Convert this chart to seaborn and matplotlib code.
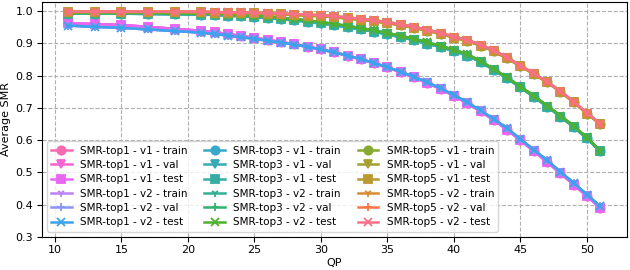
import matplotlib
matplotlib.use("Agg")
import matplotlib.pyplot as plt
import seaborn as sns

qp = [11, 13, 15, 17, 19, 21, 22, 23, 24, 25, 26, 27, 28, 29, 30, 31, 32, 33, 34, 35,
      36, 37, 38, 39, 40, 41, 42, 43, 44, 45, 46, 47, 48, 49, 50, 51]

top1_v1 = [0.962, 0.960, 0.957, 0.951, 0.945, 0.939, 0.934, 0.929, 0.923, 0.917, 0.911, 0.904,
           0.897, 0.890, 0.881, 0.872, 0.862, 0.850, 0.838, 0.825, 0.810, 0.794, 0.777, 0.758,
           0.737, 0.714, 0.689, 0.662, 0.632, 0.599, 0.566, 0.532, 0.497, 0.462, 0.426, 0.389]
top1_v2 = [0.955, 0.951, 0.948, 0.943, 0.938, 0.933, 0.929, 0.924, 0.919, 0.914, 0.908, 0.902,
           0.896, 0.889, 0.881, 0.872, 0.862, 0.851, 0.839, 0.826, 0.812, 0.796, 0.779, 0.760,
           0.740, 0.717, 0.692, 0.665, 0.636, 0.603, 0.570, 0.537, 0.502, 0.467, 0.431, 0.394]
top3_v1 = [0.992, 0.992, 0.992, 0.991, 0.990, 0.989, 0.988, 0.986, 0.984, 0.981, 0.978, 0.975,
           0.971, 0.967, 0.962, 0.956, 0.950, 0.943, 0.936, 0.928, 0.919, 0.910, 0.899, 0.888,
           0.876, 0.862, 0.842, 0.817, 0.791, 0.763, 0.734, 0.704, 0.673, 0.640, 0.605, 0.565]
top3_v2 = [0.994, 0.994, 0.994, 0.994, 0.993, 0.992, 0.991, 0.989, 0.987, 0.985, 0.982, 0.979,
           0.975, 0.971, 0.966, 0.960, 0.954, 0.947, 0.940, 0.932, 0.923, 0.914, 0.903, 0.892,
           0.880, 0.866, 0.845, 0.820, 0.794, 0.766, 0.737, 0.707, 0.676, 0.643, 0.608, 0.567]
top5_v1 = [0.997, 0.997, 0.997, 0.997, 0.997, 0.996, 0.995, 0.994, 0.994, 0.993, 0.991, 0.990,
           0.988, 0.986, 0.984, 0.981, 0.977, 0.973, 0.968, 0.963, 0.956, 0.948, 0.939, 0.929,
           0.918, 0.907, 0.893, 0.875, 0.853, 0.829, 0.805, 0.779, 0.750, 0.717, 0.682, 0.649]
top5_v2 = [0.998, 0.998, 0.998, 0.998, 0.998, 0.998, 0.997, 0.996, 0.996, 0.995, 0.994, 0.992,
           0.991, 0.989, 0.987, 0.984, 0.980, 0.976, 0.971, 0.966, 0.959, 0.951, 0.942, 0.932,
           0.921, 0.910, 0.896, 0.878, 0.856, 0.831, 0.807, 0.781, 0.752, 0.719, 0.684, 0.651]

metrics = ["SMR-top1", "SMR-top3", "SMR-top5"]
versions = ["v1", "v2"]
splits = ["train", "val", "test"]
series = {
    ("SMR-top1", "v1"): top1_v1, ("SMR-top1", "v2"): top1_v2,
    ("SMR-top3", "v1"): top3_v1, ("SMR-top3", "v2"): top3_v2,
    ("SMR-top5", "v1"): top5_v1, ("SMR-top5", "v2"): top5_v2,
}
markers = {"v1": ["o", "v", "s"], "v2": ["1", "+", "x"]}

palette = sns.color_palette("husl", 18)[::-1]

fig, ax = plt.subplots(figsize=(6.3, 2.7), dpi=100)
fig.subplots_adjust(left=0.066, right=0.995, bottom=0.123, top=0.993)

i = 0
for m in metrics:
    for v in versions:
        for k, s in enumerate(splits):
            c = palette[i]
            sns.lineplot(x=qp, y=series[(m, v)], color=c, marker=markers[v][k],
                         markeredgecolor=c, markeredgewidth=1.3, markersize=6,
                         linewidth=1.8, label=f"{m} - {v} - {s}", ax=ax)
            i += 1

ax.set_ylim(bottom=0.3)
ax.set_xlabel("QP", fontsize=8, labelpad=2)
ax.set_ylabel("Average SMR", fontsize=8, labelpad=3)
ax.tick_params(labelsize=8, pad=2.5)
ax.grid(True, linestyle="--", color="#b0b0b0", linewidth=0.8)
ax.set_axisbelow(True)
ax.legend(loc="lower left", ncol=3, fontsize=7.5, handlelength=2.0,
          labelspacing=0.42, columnspacing=1.6, borderaxespad=0.5)

fig.savefig("out.png", dpi=100)
